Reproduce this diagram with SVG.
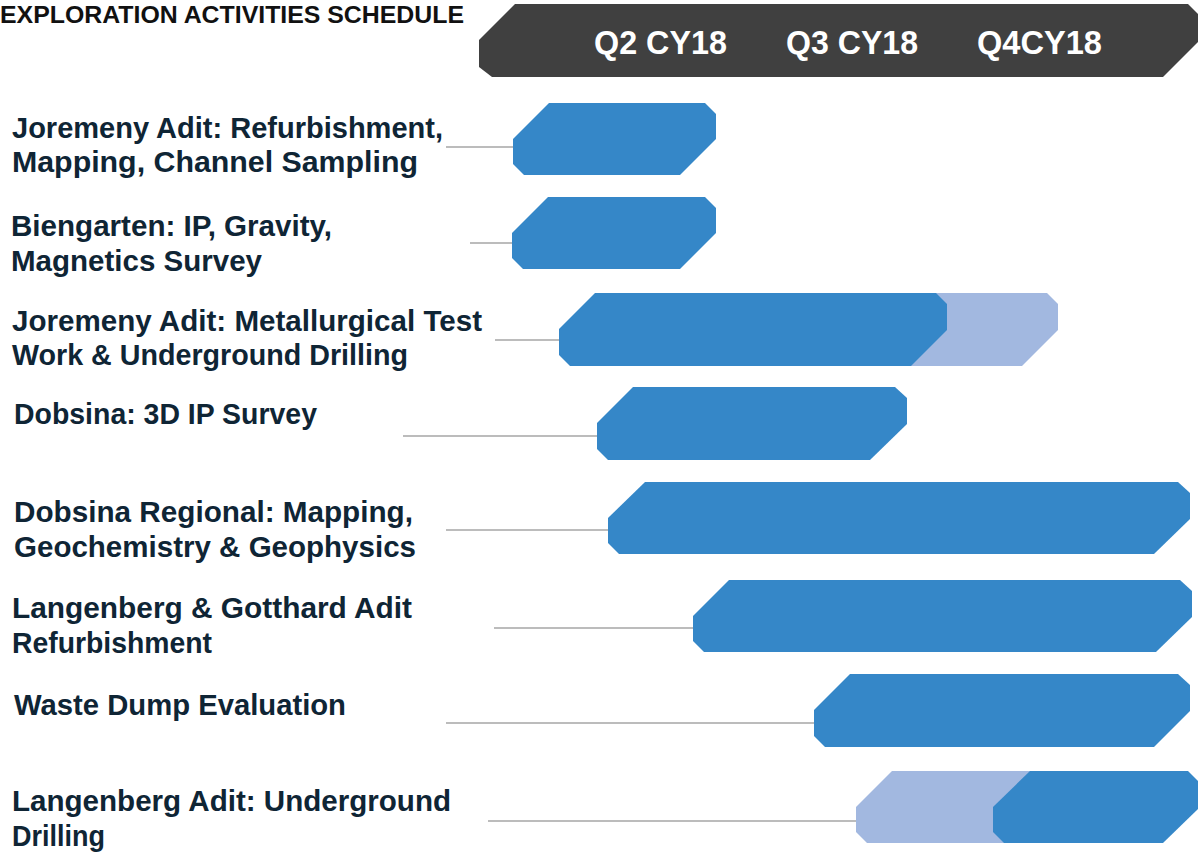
<svg xmlns="http://www.w3.org/2000/svg" width="1198" height="853" viewBox="0 0 1198 853">
<style>
.lbl{font-family:"Liberation Sans",Arial,sans-serif;font-weight:bold;font-size:29px;fill:#0f2535}
.hdr{font-family:"Liberation Sans",Arial,sans-serif;font-weight:bold;font-size:33px;fill:#ffffff}
.ttl{font-family:"Liberation Sans",Arial,sans-serif;font-weight:bold;font-size:23px;fill:#111111}
.dk{fill:#3587c8}
.lt{fill:#a2b8e0}
.con{stroke:#a6a6a6;stroke-width:1.5;fill:none}
</style>
<rect width="1198" height="853" fill="#ffffff"/>
<text class="ttl" x="0" y="23" textLength="464" lengthAdjust="spacingAndGlyphs">EXPLORATION ACTIVITIES SCHEDULE</text>
<g id="header">
<polygon points="515,4 1188,4 1199,15 1199,41 1163,77 492,77 479,67 479,40" fill="#404040"/>
<text class="hdr" x="594" y="54" textLength="133" lengthAdjust="spacingAndGlyphs">Q2 CY18</text>
<text class="hdr" x="786" y="54" textLength="132" lengthAdjust="spacingAndGlyphs">Q3 CY18</text>
<text class="hdr" x="977" y="54" textLength="125" lengthAdjust="spacingAndGlyphs">Q4CY18</text>
</g>
<g id="connectors">
<line class="con" x1="446" y1="147" x2="513" y2="147"/>
<line class="con" x1="470" y1="243" x2="512" y2="243"/>
<line class="con" x1="495" y1="340" x2="559" y2="340"/>
<line class="con" x1="403" y1="436" x2="597" y2="436"/>
<line class="con" x1="446" y1="530" x2="608" y2="530"/>
<line class="con" x1="494" y1="628" x2="693" y2="628"/>
<line class="con" x1="446" y1="723" x2="814" y2="723"/>
<line class="con" x1="488" y1="821" x2="856" y2="821"/>
</g>
<g id="task1">
<polygon class="dk" points="549,103 705,103 716,114 716,139 680,175 524,175 513,164 513,139"/>
<text class="lbl" x="12" y="138" textLength="431" lengthAdjust="spacingAndGlyphs">Joremeny Adit: Refurbishment,</text>
<text class="lbl" x="12" y="172" textLength="406" lengthAdjust="spacingAndGlyphs">Mapping, Channel Sampling</text>
</g>
<g id="task2">
<polygon class="dk" points="548,197 705,197 716,208 716,233 680,269 523,269 512,258 512,233"/>
<text class="lbl" x="11" y="236" textLength="321" lengthAdjust="spacingAndGlyphs">Biengarten: IP, Gravity,</text>
<text class="lbl" x="11" y="271" textLength="251" lengthAdjust="spacingAndGlyphs">Magnetics Survey</text>
</g>
<g id="task3">
<polygon class="lt" points="936,293 1047,293 1058,304 1058,330 1022,366 900,366 900,293"/>
<polygon class="dk" points="595,293 936,293 947,304 947,330 911,366 570,366 559,355 559,329"/>
<text class="lbl" x="12" y="331" textLength="470" lengthAdjust="spacingAndGlyphs">Joremeny Adit: Metallurgical Test</text>
<text class="lbl" x="12" y="365" textLength="396" lengthAdjust="spacingAndGlyphs">Work &amp; Underground Drilling</text>
</g>
<g id="task4">
<polygon class="dk" points="633,387 895,387 907,398 907,424 870,460 608,460 597,449 597,423"/>
<text class="lbl" x="14" y="424" textLength="303" lengthAdjust="spacingAndGlyphs">Dobsina: 3D IP Survey</text>
</g>
<g id="task5">
<polygon class="dk" points="645,482 1178,482 1190,493 1190,519 1154,554 619,554 608,543 608,518"/>
<text class="lbl" x="14" y="522" textLength="399" lengthAdjust="spacingAndGlyphs">Dobsina Regional: Mapping,</text>
<text class="lbl" x="14" y="557" textLength="402" lengthAdjust="spacingAndGlyphs">Geochemistry &amp; Geophysics</text>
</g>
<g id="task6">
<polygon class="dk" points="729,580 1180,580 1192,591 1192,617 1156,652 704,652 693,641 693,616"/>
<text class="lbl" x="12" y="618" textLength="400" lengthAdjust="spacingAndGlyphs">Langenberg &amp; Gotthard Adit</text>
<text class="lbl" x="12" y="653" textLength="200" lengthAdjust="spacingAndGlyphs">Refurbishment</text>
</g>
<g id="task7">
<polygon class="dk" points="850,674 1178,674 1190,685 1190,711 1154,747 825,747 814,736 814,710"/>
<text class="lbl" x="14" y="715" textLength="332" lengthAdjust="spacingAndGlyphs">Waste Dump Evaluation</text>
</g>
<g id="task8">
<polygon class="lt" points="892,771 1060,771 1060,843 867,843 856,832 856,807"/>
<polygon class="dk" points="1030,771 1188,771 1199,782 1199,808 1163,843 1004,843 993,832 993,807"/>
<text class="lbl" x="12" y="811" textLength="439" lengthAdjust="spacingAndGlyphs">Langenberg Adit: Underground</text>
<text class="lbl" x="12" y="846" textLength="93" lengthAdjust="spacingAndGlyphs">Drilling</text>
</g>
</svg>
